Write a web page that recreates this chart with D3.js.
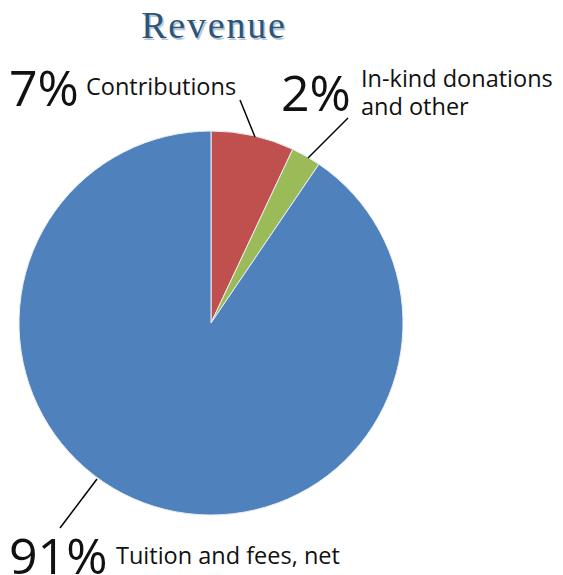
<!DOCTYPE html>
<html><head><meta charset="utf-8">
<script src="https://cdn.jsdelivr.net/npm/d3@7"></script>
<style>body{margin:0;background:#fff}svg{display:block}</style>
</head><body>
<svg id="c" width="563" height="575"></svg>
<script>
const categories = ["Contributions", "In-kind donations and other", "Tuition and fees, net"];
const values = [7.0, 2.5, 90.5];
const pctLabels = ["7%", "2%", "91%"];
const colors = ["#c0504d", "#9bbb59", "#4f81bd"];

const svg = d3.select("#c");
const cx = 211, cy = 323, r = 192;

// title
const t = svg.append("g").attr("font-family","Liberation Serif, serif").attr("font-size",38).attr("text-anchor","middle").attr("letter-spacing","1.8px");
t.append("text").attr("x",215.5).attr("y",39.5).attr("fill","#b9c7d6").text("Revenue");
t.append("text").attr("x",214).attr("y",38).attr("fill","#2c5578").text("Revenue");

const pie = d3.pie().sort(null).value(d=>d)(values);
const arc = d3.arc().innerRadius(0).outerRadius(r);
svg.append("g").attr("transform",`translate(${cx},${cy})`)
  .selectAll("path").data(pie).join("path")
  .attr("d",arc).attr("fill",(d,i)=>colors[i]).attr("stroke","#e8eef5").attr("stroke-width",1);

// leader lines
const lines = [[240,100,255,137],[348,118,308,158],[97,479,60,528]];
svg.append("g").selectAll("line").data(lines).join("line")
  .attr("x1",d=>d[0]).attr("y1",d=>d[1]).attr("x2",d=>d[2]).attr("y2",d=>d[3])
  .attr("stroke","#000").attr("stroke-width",1.5);

const f = "Open Sans, sans-serif";
const big = svg.append("g").attr("font-family",f).attr("font-size",50).attr("fill","#111");
big.append("text").attr("x",9).attr("y",106).text(pctLabels[0]);
big.append("text").attr("x",281).attr("y",111).text(pctLabels[1]);
big.append("text").attr("x",9).attr("y",574).text(pctLabels[2]);

const sm = svg.append("g").attr("font-family",f).attr("font-size",23.5).attr("fill","#111");
sm.append("text").attr("x",86).attr("y",95).text(categories[0]);
sm.append("text").attr("x",361).attr("y",87).text("In-kind donations");
sm.append("text").attr("x",361).attr("y",115).text("and other");
sm.append("text").attr("x",116).attr("y",564).text(categories[2]);
</script>
</body></html>
